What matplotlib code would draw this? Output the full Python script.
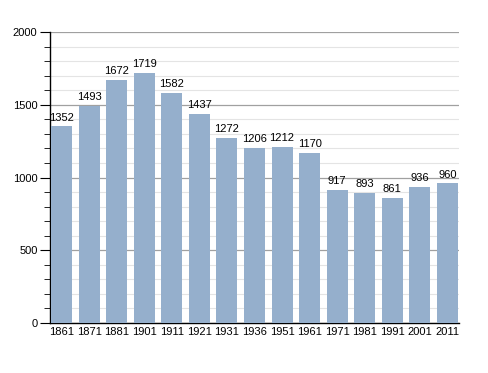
import numpy as np
import matplotlib
matplotlib.use('Agg')
import matplotlib.pyplot as plt
from matplotlib.ticker import MultipleLocator

plt.rcParams['font.family'] = ['Liberation Sans', 'DejaVu Sans']

years = ['1861', '1871', '1881', '1901', '1911', '1921', '1931', '1936',
         '1951', '1961', '1971', '1981', '1991', '2001', '2011']
population = [1352, 1493, 1672, 1719, 1582, 1437, 1272, 1206,
              1212, 1170, 917, 893, 861, 936, 960]

fig = plt.figure(figsize=(4.88, 3.73), dpi=100)
ax = fig.add_axes([0.1025, 0.134, 0.838, 0.78])

x = np.arange(len(years))
ax.bar(x, population, width=0.76, color='#95afcc', zorder=3)

for xi, v in zip(x, population):
    ax.text(xi, v + 25, str(v), ha='center', va='bottom', fontsize=8, zorder=4)

ax.set_xlim(-0.42, len(years) - 0.58)
ax.set_ylim(0, 2000)
ax.set_xticks(x)
ax.set_xticklabels(years, fontsize=8)
ax.tick_params(axis='x', length=0, pad=3)
ax.yaxis.set_major_locator(MultipleLocator(500))
ax.yaxis.set_minor_locator(MultipleLocator(100))
ax.tick_params(axis='y', which='major', length=7, labelsize=8, pad=2)
ax.tick_params(axis='y', which='minor', length=4)

ax.grid(axis='y', which='major', color='#a0a0a0', linewidth=0.9, zorder=1)
ax.grid(axis='y', which='minor', color='#e4e4e4', linewidth=0.8, zorder=0)

for s in ['top', 'right']:
    ax.spines[s].set_visible(False)
ax.spines['left'].set_linewidth(1.0)
ax.spines['bottom'].set_linewidth(1.0)

fig.savefig('out.png', dpi=100)
